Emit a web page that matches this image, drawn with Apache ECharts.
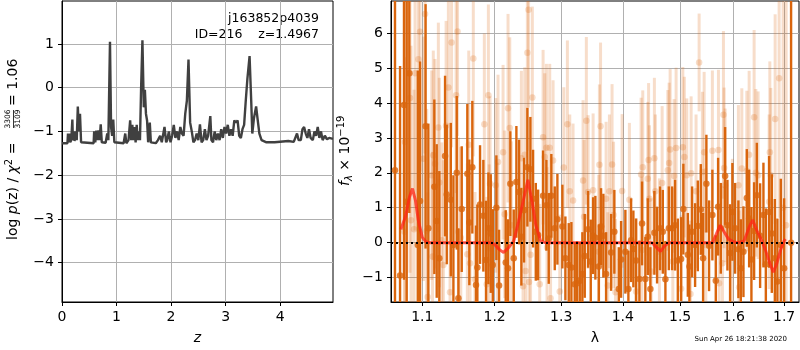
<!DOCTYPE html>
<html>
<head>
<meta charset="utf-8">
<script src="https://cdn.jsdelivr.net/npm/echarts@6/dist/echarts.min.js"></script>
<style>
  html, body { margin: 0; padding: 0; background: #fff; }
  #chart { width: 800px; height: 350px; }
</style>
</head>
<body>
<div id="chart"></div>
<script>
// ---- left panel: log p(z) ----
const zGrid = [
  0.00, 0.10, 0.11, 0.12, 0.14, 0.15, 0.17, 0.19, 0.20, 0.22,
  0.23, 0.25, 0.27, 0.29, 0.31, 0.33, 0.35, 0.37, 0.58, 0.59,
  0.61, 0.63, 0.65, 0.67, 0.69, 0.71, 0.73, 0.80, 0.83, 0.85,
  0.87, 0.88, 0.90, 0.92, 0.94, 0.96, 1.13, 1.16, 1.18, 1.22,
  1.25, 1.27, 1.29, 1.31, 1.33, 1.35, 1.37, 1.39, 1.41, 1.43,
  1.45, 1.475, 1.50, 1.52, 1.54, 1.56, 1.58, 1.61, 1.63, 1.66,
  1.72, 1.76, 1.80, 1.83, 1.88, 1.91, 1.93, 1.96, 1.99, 2.02,
  2.05, 2.08, 2.11, 2.14, 2.17, 2.20, 2.23, 2.26, 2.29, 2.32,
  2.35, 2.38, 2.41, 2.44, 2.47, 2.50, 2.53, 2.56, 2.59, 2.62,
  2.65, 2.68, 2.72, 2.74, 2.77, 2.80, 2.83, 2.86, 2.89, 2.92,
  2.95, 2.98, 3.01, 3.04, 3.07, 3.10, 3.13, 3.16, 3.19, 3.22,
  3.25, 3.28, 3.31, 3.34, 3.37, 3.40, 3.44, 3.47, 3.49, 3.52,
  3.56, 3.59, 3.62, 3.66, 3.75, 3.90, 4.05, 4.15, 4.25, 4.31,
  4.34, 4.38, 4.41, 4.44, 4.47, 4.50, 4.53, 4.56, 4.60, 4.63,
  4.66, 4.69, 4.72, 4.75, 4.78, 4.82, 4.86, 4.90, 4.97
];
const logPz = [
  -1.27, -1.27, -1.05, -1.25, -1.05, -1.25, -1.20, -0.73, -1.20, -1.00,
  -1.22, -1.00, -1.20, -0.43, -1.00, -0.60, -1.25, -1.27, -1.27, -1.00,
  -1.25, -0.98, -1.20, -0.98, -1.20, -0.84, -1.25, -1.26, -1.05, -1.20,
  0.30, 1.05, -0.90, -1.10, -0.73, -1.25, -1.27, -1.05, -1.27, -1.20,
  -0.75, -1.20, -0.85, -1.20, -0.90, -1.25, -0.85, -1.20, -1.00, -1.20,
  -0.05, 1.08, -0.45, -0.05, -0.60, -0.75, -1.25, -0.80, -1.25, -1.27,
  -1.27, -1.20, -1.10, -1.25, -0.90, -1.25, -1.20, -1.00, -1.25, -1.10,
  -0.85, -1.15, -1.00, -1.20, -0.90, -1.05, -1.10, -0.60, -0.30, 0.64,
  -0.80, -1.00, -1.25, -1.20, -1.05, -1.20, -0.84, -1.25, -1.20, -0.95,
  -1.20, -1.10, -0.65, -1.20, -1.25, -1.00, -1.20, -1.05, -1.20, -0.95,
  -1.15, -0.90, -1.05, -0.85, -1.10, -0.95, -1.10, -0.75, -0.80, -0.75,
  -1.10, -1.15, -0.95, -0.85, -0.30, 0.20, 0.72, -0.30, -1.05, -0.70,
  -0.43, -0.75, -1.05, -1.20, -1.25, -1.25, -1.23, -1.22, -1.24, -1.05,
  -1.20, -1.20, -0.95, -0.90, -1.05, -1.15, -0.95, -1.15, -1.20, -1.00,
  -1.10, -0.90, -1.15, -1.00, -1.20, -1.10, -1.18, -1.15, -1.17
];
const zTicks = [0, 1, 2, 3, 4];
const pzTicks = [-4, -3, -2, -1, 0, 1];

// ---- right panel: spectrum ----
const darkLam = [
  1.0644, 1.0709, 1.0760, 1.0795, 1.0829, 1.0940, 1.0970, 1.1043, 1.1080, 1.1160,
  1.1192, 1.1227, 1.1305, 1.1328, 1.1383, 1.1419, 1.1465, 1.1488, 1.1534, 1.1612,
  1.1640, 1.1682, 1.1734, 1.1753, 1.1791, 1.1838, 1.1876, 1.1910, 1.1944, 1.1973,
  1.2025, 1.2064, 1.2161, 1.2195, 1.2229, 1.2279, 1.2318, 1.2358, 1.2392, 1.2432,
  1.2482, 1.2527, 1.2568, 1.2609, 1.2644, 1.2720, 1.2771, 1.2807, 1.2847, 1.2900,
  1.2941, 1.3019, 1.3066, 1.3119, 1.3161, 1.3214, 1.3251, 1.3294, 1.3336, 1.3374,
  1.3428, 1.3471, 1.3509, 1.3546, 1.3602, 1.3639, 1.3677, 1.3722, 1.3805, 1.3859,
  1.3933, 1.3972, 1.4044, 1.4095, 1.4141, 1.4180, 1.4226, 1.4283, 1.4329, 1.4386,
  1.4428, 1.4473, 1.4543, 1.4590, 1.4643, 1.4691, 1.4737, 1.4798, 1.4857, 1.4910,
  1.4959, 1.5018, 1.5059, 1.5140, 1.5169, 1.5218, 1.5273, 1.5323, 1.5378, 1.5421,
  1.5482, 1.5532, 1.5594, 1.5658, 1.5702, 1.5753, 1.5835, 1.5879, 1.5930, 1.5974,
  1.6026, 1.6090, 1.6137, 1.6188, 1.6254, 1.6299, 1.6344, 1.6397, 1.6451, 1.6516,
  1.6582, 1.6630, 1.6696, 1.6750, 1.6811, 1.6863, 1.6932, 1.7000, 1.7143
];
const darkFlux = [
  2.07, -0.94, 3.94, 1.17, 4.85, -0.07, 1.19, 3.33, 0.41, 1.60,
  0.62, -0.45, 2.48, 1.38, 1.23, -0.07, 2.00, -1.59, 0.96, 1.97,
  0.58, 2.16, -1.21, -0.71, 1.09, 0.77, -0.50, 0.41, 0.26, -0.64,
  1.00, -1.23, -0.57, -0.73, 1.69, -0.45, 1.74, 1.45, 0.17, 0.93,
  2.16, 2.10, 1.26, 0.31, 0.22, 1.34, 1.07, 0.12, 1.34, 0.41,
  0.67, 0.46, -0.45, -0.64, -0.71, -1.19, -1.16, -1.09, -0.90, -0.38,
  0.38, -0.54, 0.20, 0.14, -0.68, 0.46, 0.20, -0.90, -0.28, 0.31,
  -1.33, -0.48, -0.26, -1.33, 0.07, -0.18, -0.51, -1.04, 0.55, -1.04,
  0.17, -1.33, 0.28, -0.07, 0.41, 0.31, -1.05, 0.41, 0.41, 0.50,
  -0.51, -0.47, 0.96, -0.35, -0.68, 0.31, -0.07, 0.48, 0.95, -0.45,
  1.69, -0.09, 0.79, -1.09, 1.03, 0.41, 1.91, 0.50, -0.30, 0.88,
  0.41, -0.19, -0.73, -0.26, 1.28, 0.69, -0.48, 0.33, 1.36, 0.20,
  0.79, -0.62, 0.88, 0.26, -0.45, -1.11, -0.07, -0.73, 0.00
];
const darkErr = [
  9.0, 6.0, 5.0, 6.0, 4.0, 5.0, 4.0, 3.5, 3.0, 2.5,
  2.2, 2.5, 2.3, 2.0, 2.2, 2.0, 2.2, 2.0, 1.8, 2.0,
  1.8, 1.9, 1.7, 1.8, 1.7, 1.6, 1.7, 1.6, 1.7, 1.6,
  1.5, 1.6, 1.5, 1.4, 1.5, 1.4, 1.6, 1.5, 1.4, 1.5,
  1.7, 1.5, 1.4, 1.4, 1.3, 1.3, 1.3, 1.3, 1.2, 1.2,
  1.3, 1.2, 1.2, 1.2, 1.3, 1.2, 1.2, 1.1, 1.2, 1.2,
  1.1, 1.2, 1.1, 1.2, 1.2, 1.1, 1.2, 1.2, 1.1, 1.2,
  1.2, 1.1, 1.2, 1.1, 1.2, 1.1, 1.2, 1.1, 1.2, 1.2,
  1.1, 1.2, 1.2, 1.1, 1.2, 1.2, 1.1, 1.2, 1.2, 1.3,
  1.2, 1.2, 1.3, 1.2, 1.2, 1.3, 1.2, 1.3, 1.3, 1.3,
  1.4, 1.3, 1.3, 1.3, 1.4, 1.3, 1.4, 1.3, 1.4, 1.4,
  1.3, 1.4, 1.4, 1.3, 1.4, 1.4, 1.5, 1.4, 1.5, 1.5,
  1.5, 1.6, 1.6, 1.7, 1.7, 1.8, 1.9, 2.0, 20
];
const lightLam = [
  1.0767, 1.0773, 1.0838, 1.0851, 1.0891, 1.0904, 1.0948, 1.0970, 1.1014, 1.1036,
  1.1058, 1.1071, 1.1125, 1.1136, 1.1146, 1.1169, 1.1214, 1.1227, 1.1260, 1.1282,
  1.1319, 1.1350, 1.1373, 1.1394, 1.1456, 1.1476, 1.1488, 1.1521, 1.1612, 1.1632,
  1.1650, 1.1696, 1.1720, 1.1852, 1.1886, 1.1910, 1.1920, 1.1934, 1.2016, 1.2039,
  1.2049, 1.2122, 1.2146, 1.2195, 1.2220, 1.2244, 1.2392, 1.2417, 1.2443, 1.2455,
  1.2482, 1.2500, 1.2507, 1.2530, 1.2557, 1.2669, 1.2720, 1.2746, 1.2771, 1.2781,
  1.2822, 1.2835, 1.2874, 1.2978, 1.3041, 1.3098, 1.3135, 1.3187, 1.3347, 1.3363,
  1.3400, 1.3428, 1.3509, 1.3602, 1.3612, 1.3631, 1.3722, 1.3750, 1.3777, 1.3821,
  1.3846, 1.3879, 1.3989, 1.4112, 1.4226, 1.4312, 1.4326, 1.4341, 1.4428, 1.4442,
  1.4456, 1.4486, 1.4543, 1.4560, 1.4631, 1.4679, 1.4780, 1.4803, 1.4821, 1.4869,
  1.4892, 1.4928, 1.5018, 1.5049, 1.5077, 1.5121, 1.5188, 1.5200, 1.5291, 1.5347,
  1.5408, 1.5440, 1.5471, 1.5594, 1.5708, 1.5721, 1.5784, 1.5803, 1.5816, 1.5835,
  1.5974, 1.6090, 1.6104, 1.6156, 1.6254, 1.6299, 1.6397, 1.6431, 1.6476, 1.6696,
  1.6710, 1.6730, 1.6817, 1.6898, 1.6980, 1.7041
];
const lightFlux = [
  0.31, 2.88, 4.14, 0.64, 0.38, 4.85, 5.25, 6.04, 2.40, 6.55,
  0.33, -1.56, 1.93, -0.40, 2.50, 2.26, 3.30, 1.72, 0.07, -0.64,
  3.35, 4.44, -1.42, 5.73, 4.22, 6.05, 0.31, 0.14, -0.33, 2.80,
  -0.59, 5.27, -1.05, 3.39, -1.19, 4.22, -0.16, 1.69, 1.64, -0.11,
  2.31, 2.59, 0.81, 3.85, 3.28, 0.50, 2.42, -1.25, 2.52, -0.81,
  5.44, 6.67, -1.13, -0.35, 4.16, -1.19, 3.02, 2.45, 2.72, -0.14,
  2.72, -1.59, 2.35, -1.40, 2.15, 3.39, 1.47, 1.21, 1.78, 0.74,
  3.49, 1.45, 1.50, -0.26, 2.23, 3.33, 1.26, -1.23, 1.47, 2.24,
  0.79, -1.42, 1.48, 1.23, -1.40, 1.95, -0.21, 2.16, 1.83, 2.37,
  1.26, -0.83, 2.42, 1.47, -0.26, 1.71, 2.07, 2.28, 2.67, -0.54,
  1.91, 2.71, -1.32, 2.73, 2.45, 1.93, -1.47, 1.99, 1.47, 5.16,
  2.02, 2.59, -0.07, 2.63, 2.65, -1.16, -0.59, 3.66, 2.14, 1.64,
  0.20, 1.64, -1.28, 2.12, 2.05, 2.52, 3.59, 2.00, 1.93, 1.17,
  2.59, 1.93, 3.54, 4.71, 1.00, 0.50
];
const lightErr = [
  5.0, 6.0, 5.0, 5.0, 4.0, 4.5, 4.0, 4.0, 3.5, 4.0,
  3.5, 3.0, 3.0, 3.0, 3.0, 3.0, 3.0, 3.0, 2.8, 3.0,
  3.0, 3.0, 2.8, 3.0, 2.8, 3.0, 2.7, 2.6, 2.6, 2.7,
  2.5, 2.8, 2.5, 2.6, 2.5, 2.6, 2.4, 2.5, 2.5, 2.4,
  2.5, 2.5, 2.4, 2.7, 2.6, 2.4, 2.5, 2.4, 2.5, 2.3,
  2.8, 2.8, 2.3, 2.3, 2.6, 2.3, 2.5, 2.4, 2.4, 2.3,
  2.4, 2.2, 2.3, 2.2, 2.3, 2.4, 2.2, 2.2, 2.3, 2.2,
  2.4, 2.2, 2.2, 2.2, 2.3, 2.4, 2.2, 2.1, 2.2, 2.3,
  2.1, 2.1, 2.2, 2.2, 2.1, 2.2, 2.1, 2.2, 2.2, 2.2,
  2.1, 2.1, 2.3, 2.2, 2.1, 2.2, 2.3, 2.3, 2.3, 2.1,
  2.2, 2.3, 2.1, 2.3, 2.3, 2.2, 2.1, 2.2, 2.2, 1.4,
  2.3, 2.3, 2.2, 2.3, 2.3, 2.2, 2.2, 2.4, 2.3, 2.2,
  2.2, 2.3, 2.2, 2.3, 2.3, 2.4, 2.5, 2.4, 2.4, 2.5,
  2.6, 2.5, 3.0, 4.0, 9.0, 9.0
];
const modelLam = [
  1.072, 1.078, 1.083, 1.087, 1.091, 1.095, 1.100, 1.105, 1.110, 1.195,
  1.200, 1.207, 1.213, 1.220, 1.228, 1.235, 1.242, 1.249, 1.255, 1.261,
  1.268, 1.275, 1.450, 1.457, 1.465, 1.472, 1.480, 1.560, 1.567, 1.574,
  1.582, 1.590, 1.600, 1.610, 1.620, 1.630, 1.637, 1.645, 1.655, 1.662,
  1.670, 1.678, 1.685, 1.693, 1.700, 1.703
];
const modelFlux = [
  0.38, 0.75, 1.30, 1.55, 1.20, 0.60, 0.15, 0.02, 0.00, 0.00,
  -0.05, -0.20, -0.28, -0.15, 0.05, 0.60, 1.20, 1.80, 1.20, 0.50,
  0.05, 0.00, 0.00, -0.12, -0.25, -0.10, 0.00, 0.00, 0.25, 0.50,
  0.30, 0.10, 0.02, 0.00, 0.05, 0.45, 0.65, 0.35, 0.05, -0.20,
  -0.55, -0.85, -0.60, -0.20, 0.05, 0.10
];
const lamTicks = [1.1, 1.2, 1.3, 1.4, 1.5, 1.6, 1.7];
const fluxTicks = [-1, 0, 1, 2, 3, 4, 5, 6];

const FONT = 'DejaVu Sans';
const DARK = 'rgb(217,101,13)';
const LIGHT = 'rgba(217,101,13,0.22)';
const LIGHT_PT = 'rgba(217,101,13,0.28)';
const GRID_C = '#b0b0b0';

const chart = echarts.init(document.getElementById('chart'));

const minus = v => String(v).replace('-', '\u2212');

function makeAxis(extra, ticks, fmt) {
  return Object.assign({
    axisLine: { show: true, onZero: false, lineStyle: { color: '#000', width: 1 } },
    axisTick: { show: true, length: 4, customValues: ticks, lineStyle: { color: '#000' } },
    axisLabel: { customValues: ticks, color: '#000', fontSize: 14, fontFamily: FONT, margin: 8, formatter: fmt },
    splitLine: { show: true, lineStyle: { color: GRID_C, width: 1 } },
    nameTextStyle: { color: '#000', fontSize: 14, fontFamily: FONT }
  }, extra);
}

function errRender(color, width) {
  return function (params, api) {
    const x = api.value(0), y = api.value(1), e = api.value(2);
    const p1 = api.coord([x, y + e]);
    const p2 = api.coord([x, y - e]);
    return {
      type: 'line',
      shape: { x1: p1[0], y1: p1[1], x2: p2[0], y2: p2[1] },
      style: { stroke: color, lineWidth: width }
    };
  };
}

const darkData = darkLam.map((l, i) => [l, darkFlux[i], darkErr[i]]);
const lightData = lightLam.map((l, i) => [l, lightFlux[i], lightErr[i]]);

const option = {
  animation: false,
  backgroundColor: '#fff',
  grid: [
    { left: 62, top: 1, width: 271, height: 303, show: true, borderColor: '#000', borderWidth: 1, backgroundColor: 'transparent' },
    { left: 391, top: 1, width: 408, height: 303, show: true, borderColor: '#000', borderWidth: 1, backgroundColor: 'transparent' }
  ],
  xAxis: [
    makeAxis({ type: 'value', gridIndex: 0, min: 0, max: 4.97, name: 'z', nameLocation: 'middle', nameGap: 29,
      nameTextStyle: { color: '#000', fontSize: 14, fontFamily: FONT, fontStyle: 'italic' } }, zTicks, v => minus(v)),
    makeAxis({ type: 'log', logBase: 10, gridIndex: 1, min: 1.0593, max: 1.7307, name: 'λ', nameLocation: 'middle', nameGap: 29 },
      lamTicks, v => (+v).toFixed(1))
  ],
  yAxis: [
    makeAxis({ type: 'value', gridIndex: 0, min: -4.90, max: 1.98 }, pzTicks, v => minus(v)),
    makeAxis({ type: 'value', gridIndex: 1, min: -1.70, max: 6.92 }, fluxTicks, v => minus(v))
  ],
  series: [
    {
      type: 'line', xAxisIndex: 0, yAxisIndex: 0, z: 3,
      data: zGrid.map((z, i) => [z, logPz[i]]),
      showSymbol: false, symbol: 'none',
      lineStyle: { color: '#404040', width: 2.4 }
    },
    {
      type: 'custom', xAxisIndex: 1, yAxisIndex: 1, z: 2, clip: true,
      data: lightData, encode: { x: 0, y: 1 },
      renderItem: errRender(LIGHT, 3)
    },
    {
      type: 'scatter', xAxisIndex: 1, yAxisIndex: 1, z: 2,
      data: lightData.map(d => [d[0], d[1]]),
      symbolSize: 6.5, itemStyle: { color: LIGHT_PT }
    },
    {
      type: 'custom', xAxisIndex: 1, yAxisIndex: 1, z: 3, clip: true,
      data: darkData, encode: { x: 0, y: 1 },
      renderItem: errRender(DARK, 2.4)
    },
    {
      type: 'scatter', xAxisIndex: 1, yAxisIndex: 1, z: 3,
      data: darkData.map(d => [d[0], d[1]]),
      symbolSize: 6.5, itemStyle: { color: DARK }
    },
    {
      type: 'line', xAxisIndex: 1, yAxisIndex: 1, z: 4,
      data: modelLam.map((l, i) => [l, modelFlux[i]]),
      showSymbol: false, symbol: 'none',
      lineStyle: { color: 'rgba(255,35,20,0.75)', width: 3 },
      markLine: {
        silent: true, symbol: 'none', z: 6,
        label: { show: false },
        lineStyle: { color: '#000', width: 2, type: [2, 3] },
        data: [{ yAxis: 0 }]
      }
    }
  ],
  graphic: [
    { type: 'text', x: 319, y: 19, style: { text: 'j163852p4039', fontSize: 12.5, fontFamily: FONT, fill: '#000', align: 'right', verticalAlign: 'middle' } },
    { type: 'text', x: 319, y: 35, style: { text: 'ID=216    z=1.4967', fontSize: 12.5, fontFamily: FONT, fill: '#000', align: 'right', verticalAlign: 'middle' } },
    {
      type: 'group', x: 13, y: 240, rotation: Math.PI / 2,
      children: [
        { type: 'text', x: 0, y: 0, style: {
          text: '{n|log }{i|p}{n|(z) / }{i|χ}{s|2}{n| =}',
          rich: {
            n: { fontSize: 14, lineHeight: 18, fontFamily: FONT },
            i: { fontSize: 14, lineHeight: 18, fontFamily: FONT, fontStyle: 'italic' },
            s: { fontSize: 10, lineHeight: 10, fontFamily: FONT, verticalAlign: 'top' }
          },
          fill: '#000', align: 'left', verticalAlign: 'middle' } },
        { type: 'text', x: 121, y: -5, style: { text: '3306', fontSize: 7.5, fontFamily: FONT, fill: '#000', align: 'center', verticalAlign: 'middle' } },
        { type: 'line', shape: { x1: 112, y1: 0.5, x2: 130, y2: 0.5 }, style: { stroke: '#000', lineWidth: 0.8 } },
        { type: 'text', x: 121, y: 5.5, style: { text: '3109', fontSize: 7.5, fontFamily: FONT, fill: '#000', align: 'center', verticalAlign: 'middle' } },
        { type: 'text', x: 134, y: 0, style: { text: '= 1.06', fontSize: 14, fontFamily: FONT, fill: '#000', align: 'left', verticalAlign: 'middle' } }
      ]
    },
    {
      type: 'group', x: 345, y: 186, rotation: Math.PI / 2,
      children: [
        { type: 'text', x: 0, y: 0, style: {
          text: '{i|f}{b|λ}{n| × 10}{s|−19}',
          rich: {
            n: { fontSize: 14, lineHeight: 18, fontFamily: FONT },
            i: { fontSize: 14, lineHeight: 18, fontFamily: FONT, fontStyle: 'italic' },
            b: { fontSize: 10, lineHeight: 10, fontFamily: FONT, fontStyle: 'italic', verticalAlign: 'bottom' },
            s: { fontSize: 10, lineHeight: 10, fontFamily: FONT, verticalAlign: 'top' }
          },
          fill: '#000', align: 'left', verticalAlign: 'middle' } }
      ]
    },
    { type: 'text', x: 787, y: 339, style: { text: 'Sun Apr 26 18:21:38 2020', fontSize: 7, fontFamily: FONT, fill: '#000', align: 'right', verticalAlign: 'middle' } }
  ]
};

chart.setOption(option);
</script>
</body>
</html>
